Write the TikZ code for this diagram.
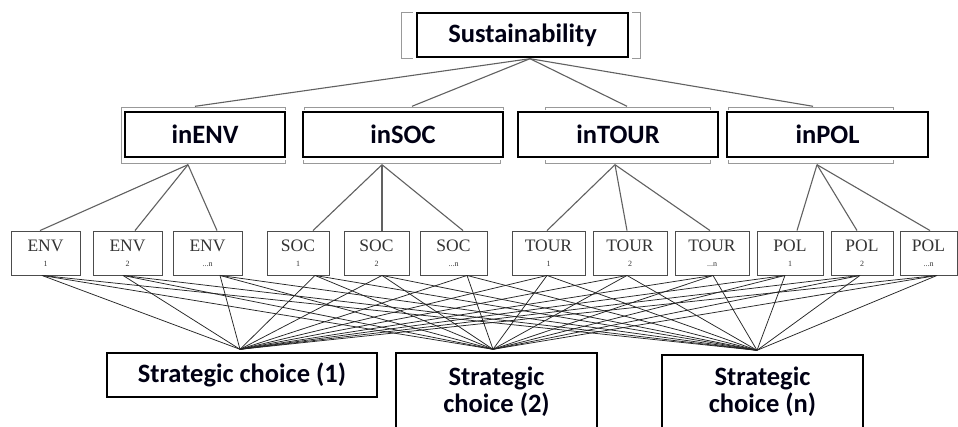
\documentclass[tikz,border=0pt]{standalone}
\usepackage{fontspec}
\setmainfont{Liberation Serif}
\newfontfamily\boldsans{Carlito}
\begin{document}
\begin{tikzpicture}[x=1pt,y=-1pt,
  bigbox/.style={draw=black,line width=1.4pt,inner sep=0pt,font=\boldsans\bfseries\fontsize{26.5}{27}\selectfont,text=black!92!blue,align=center},
  smallbox/.style={draw=black!70,line width=0.9pt,inner sep=0pt,minimum height=44pt,align=center,text=black!80},
  upline/.style={draw=black!62,line width=1.1pt},
  lowline/.style={draw=black!85,line width=0.75pt},
  brk/.style={draw=black!40,line width=1pt}]
\useasboundingbox (0,0) rectangle (958,426);
\clip (0,0) rectangle (958,426);
\fill[white] (0,0) rectangle (958,426);
\newcommand{\sbtext}[2]{{\fontsize{17.5}{18}\selectfont #1}\\[3pt]{\fontsize{8}{9}\selectfont #2}}

% top
\node[bigbox,minimum width=211pt,minimum height=44pt] (sus) at (522.5,35) {Sustainability};
\draw[brk] (413,12) -- (401,12) -- (401,58) -- (413,58);
\draw[brk] (632,12) -- (640,12) -- (640,58) -- (632,58);

% level 2
\node[bigbox,minimum width=160pt,minimum height=45pt] (ienv) at (205,134.5) {inENV};
\node[bigbox,minimum width=200pt,minimum height=45pt] (isoc) at (403,134.5) {inSOC};
\node[bigbox,minimum width=200pt,minimum height=45pt] (itour) at (618,134.5) {inTOUR};
\node[bigbox,minimum width=201pt,minimum height=45pt] (ipol) at (827.5,134.5) {inPOL};

% gray brackets around level 2
\draw[brk] (121,163) -- (121,107) -- (285,107) -- (285,110);
\draw[brk] (121,163) -- (285,163) -- (285,160);
\draw[brk] (304,110) -- (304,107) -- (503,107) -- (503,110);
\draw[brk] (303,160) -- (303,163) -- (500,163) -- (500,160);
\draw[brk] (545,110) -- (545,107) -- (710,107) -- (710,110);
\draw[brk] (545,160) -- (545,163) -- (710,163) -- (710,160);
\draw[brk] (728,110) -- (728,107) -- (893,107) -- (893,110);
\draw[brk] (728,160) -- (728,163) -- (893,163) -- (893,160);

% level 3
\node[smallbox,minimum width=69pt] (e1) at (45.5,253) {\sbtext{ENV}{1}};
\node[smallbox,minimum width=69pt] (e2) at (127.5,253) {\sbtext{ENV}{2}};
\node[smallbox,minimum width=69pt] (en) at (207.5,253) {\sbtext{ENV}{...n}};
\node[smallbox,minimum width=62pt] (s1) at (298,253) {\sbtext{SOC}{1}};
\node[smallbox,minimum width=65pt] (s2) at (376.5,253) {\sbtext{SOC}{2}};
\node[smallbox,minimum width=67pt] (sn) at (453.5,253) {\sbtext{SOC}{...n}};
\node[smallbox,minimum width=73pt] (t1) at (548.5,253) {\sbtext{TOUR}{1}};
\node[smallbox,minimum width=74pt] (t2) at (630,253) {\sbtext{TOUR}{2}};
\node[smallbox,minimum width=74pt] (tn) at (712,253) {\sbtext{TOUR}{...n}};
\node[smallbox,minimum width=66pt] (p1) at (790,253) {\sbtext{POL}{1}};
\node[smallbox,minimum width=62pt] (p2) at (862,253) {\sbtext{POL}{2}};
\node[smallbox,minimum width=57pt] (pn) at (928.5,253) {\sbtext{POL}{...n}};

% bottom
\node[bigbox,minimum width=270pt,minimum height=44pt] (c1) at (242,375) {Strategic choice (1)};
\node[bigbox,minimum width=201pt,minimum height=77pt] (c2) at (496.5,391.5) {Strategic\\choice (2)};
\node[bigbox,minimum width=201pt,minimum height=73pt] (cn) at (762.5,391.5) {Strategic\\choice (n)};

% connectors top
\draw[upline] ([xshift=7.5pt,yshift=-1pt]sus.south) -- ([xshift=-10pt,yshift=5pt]ienv.north);
\draw[upline] ([xshift=7.5pt,yshift=-1pt]sus.south) -- ([xshift=9pt,yshift=5pt]isoc.north);
\draw[upline] ([xshift=7.5pt,yshift=-1pt]sus.south) -- ([xshift=9pt,yshift=5pt]itour.north);
\draw[upline] ([xshift=7.5pt,yshift=-1pt]sus.south) -- ([xshift=-14.5pt,yshift=5pt]ipol.north);

% level 2 to level 3
\foreach \prt/\px/\ch/\cx in {ienv/-17/e1/-5.5, ienv/-17/e2/7.5, ienv/-17/en/9.5,
  isoc/-21/s1/15, isoc/-21/s2/5.5, isoc/-21/sn/9.5,
  itour/-3/t1/-1.5, itour/-3/t2/-3, itour/-3/tn/-2,
  ipol/-10.5/p1/7, ipol/-10.5/p2/-5, ipol/-10.5/pn/1.5}{
  \draw[upline] ([xshift=\px pt,yshift=-7pt]\prt.south) -- ([xshift=\cx pt]\ch.north);
}

% level 3 to strategic choices
\foreach \ch/\cx in {e1/-3.5, e2/-4.5, en/12.5, s1/17, s2/5.5, sn/13.5,
  t1/-1.5, t2/-3, tn/1, p1/-5, p2/-2, pn/8.5}{
  \draw[lowline] ([xshift=\cx pt]\ch.south) -- ([xshift=-2pt,yshift=3pt]c1.north);
  \draw[lowline] ([xshift=\cx pt]\ch.south) -- ([xshift=-3.5pt,yshift=3pt]c2.north);
  \draw[lowline] ([xshift=\cx pt]\ch.south) -- ([xshift=-5.5pt,yshift=4pt]cn.north);
}
\end{tikzpicture}
\end{document}
